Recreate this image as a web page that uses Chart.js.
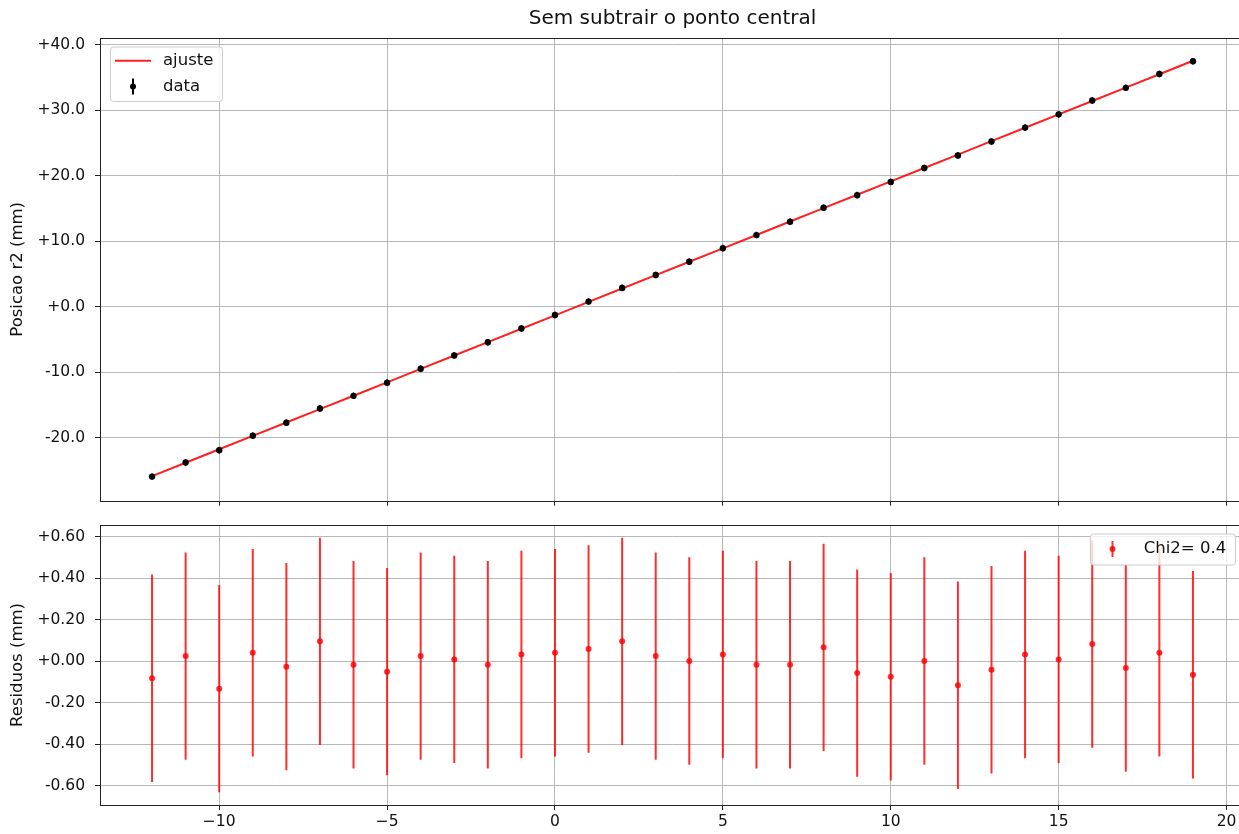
<!DOCTYPE html>
<html>
<head>
<meta charset="utf-8">
<script src="https://cdn.jsdelivr.net/npm/chart.js@4.4.1/dist/chart.umd.min.js"></script>
<style>
  html, body { margin: 0; padding: 0; overflow: hidden; background: #fff; }
  #wrap { position: relative; width: 1239px; height: 834px; overflow: hidden; }
  canvas { position: absolute; left: 0; }
  #topPanel { top: 0; width: 1260px; height: 520px; }
  #bottomPanel { top: 505px; width: 1260px; height: 329px; }
</style>
</head>
<body>
<div id="wrap">
  <canvas id="topPanel" width="1260" height="520"></canvas>
  <canvas id="bottomPanel" width="1260" height="329"></canvas>
</div>
<script>
// Positions along the scan and the measured r2 positions (mm)
const positions = [-12, -11, -10, -9, -8, -7, -6, -5, -4, -3, -2, -1, 0, 1, 2, 3,
                   4, 5, 6, 7, 8, 9, 10, 11, 12, 13, 14, 15, 16, 17, 18, 19];
const measured = [-25.94, -23.79, -21.90, -19.69, -17.71, -15.55, -13.61, -11.60,
                  -9.48, -7.45, -5.43, -3.33, -1.28, 0.78, 2.87, 4.84,
                  6.86, 8.94, 10.93, 12.98, 15.11, 17.03, 19.05, 21.18,
                  23.10, 25.22, 27.34, 29.36, 31.48, 33.41, 35.53, 37.47];
// Straight-line fit evaluated at each position (mm)
const fitted = [-25.86, -23.82, -21.77, -19.73, -17.68, -15.64, -13.59, -11.55,
                -9.50, -7.46, -5.41, -3.37, -1.32, 0.73, 2.77, 4.82,
                6.86, 8.91, 10.95, 13.00, 15.04, 17.09, 19.13, 21.18,
                23.22, 25.27, 27.31, 29.36, 31.40, 33.45, 35.49, 37.54];
// Residuals measured - fit (mm)
const residuals = [-0.083, 0.024, -0.133, 0.040, -0.027, 0.095, -0.018, -0.051,
                   0.024, 0.008, -0.018, 0.032, 0.040, 0.058, 0.095, 0.024,
                   0.000, 0.032, -0.018, -0.018, 0.066, -0.058, -0.076, 0.000,
                   -0.117, -0.042, 0.032, 0.008, 0.082, -0.034, 0.040, -0.066];
// Uncertainty of each measurement (mm)
const uncertainty = [0.5, 0.5, 0.5, 0.5, 0.5, 0.5, 0.5, 0.5, 0.5, 0.5, 0.5, 0.5, 0.5, 0.5, 0.5, 0.5,
                     0.5, 0.5, 0.5, 0.5, 0.5, 0.5, 0.5, 0.5, 0.5, 0.5, 0.5, 0.5, 0.5, 0.5, 0.5, 0.5];

const xTicks = [-10, -5, 0, 5, 10, 15, 20];
const positionTicks = [-20, -10, 0, 10, 20, 30, 40];
const residualTicks = [-0.6, -0.4, -0.2, 0, 0.2, 0.4, 0.6];

const titleText = 'Sem subtrair o ponto central';
const positionLabel = 'Posicao r2 (mm)';
const residualLabel = 'Residuos (mm)';
const fitName = 'ajuste';
const dataName = 'data';
const chi2Name = 'Chi2= 0.4';

const FONT = "'DejaVu Sans', 'Bitstream Vera Sans', sans-serif";
Chart.defaults.font.family = FONT;
Chart.defaults.color = '#111';

const RED = 'rgba(255, 0, 0, 0.82)';
const GRID = '#b0b0b0';

const signed = (v, d) => (v >= 0 ? '+' : '-') + Math.abs(v).toFixed(d);
const xFmt = v => (v < 0 ? '\u2212' + Math.abs(v) : String(v));

const measuredPts = positions.map((x, i) => ({ x, y: measured[i] }));
const fittedPts = positions.map((x, i) => ({ x, y: fitted[i] }));
const residualPts = positions.map((x, i) => ({ x, y: residuals[i] }));

// Vertical error bars for one dataset, drawn under the markers
const errorBars = {
  id: 'errorBars',
  beforeDatasetsDraw(chart, args, opts) {
    const ds = chart.data.datasets[opts.datasetIndex];
    const xs = chart.scales.x, ys = chart.scales.y, ctx = chart.ctx;
    const a = chart.chartArea;
    ctx.save();
    ctx.beginPath();
    ctx.rect(a.left, a.top, a.right - a.left, a.bottom - a.top);
    ctx.clip();
    ctx.strokeStyle = opts.color;
    ctx.lineWidth = opts.width;
    ctx.beginPath();
    ds.data.forEach((p, i) => {
      const e = opts.errors[i];
      const px = xs.getPixelForValue(p.x);
      ctx.moveTo(px, ys.getPixelForValue(p.y - e));
      ctx.lineTo(px, ys.getPixelForValue(p.y + e));
    });
    ctx.stroke();
    ctx.restore();
  }
};

// Axes frame plus a boxed legend
const frameAndLegend = {
  id: 'frameAndLegend',
  afterDraw(chart, args, opts) {
    const ctx = chart.ctx, a = chart.chartArea;
    ctx.save();
    ctx.strokeStyle = '#222';
    ctx.lineWidth = 1;
    ctx.strokeRect(Math.round(a.left) + 0.5, Math.round(a.top) + 0.5,
                   Math.round(a.right - a.left), Math.round(a.bottom - a.top));

    const L = opts.box;
    const bx = opts.anchor === 'right' ? a.right - L.dx - L.w : a.left + L.dx;
    const by = a.top + L.dy;
    const r = 3;
    ctx.beginPath();
    ctx.moveTo(bx + r, by);
    ctx.arcTo(bx + L.w, by, bx + L.w, by + L.h, r);
    ctx.arcTo(bx + L.w, by + L.h, bx, by + L.h, r);
    ctx.arcTo(bx, by + L.h, bx, by, r);
    ctx.arcTo(bx, by, bx + L.w, by, r);
    ctx.closePath();
    ctx.fillStyle = 'rgba(255,255,255,0.8)';
    ctx.fill();
    ctx.strokeStyle = '#cccccc';
    ctx.lineWidth = 1;
    ctx.stroke();

    ctx.font = opts.fontSize + 'px ' + FONT;
    ctx.textBaseline = 'middle';
    ctx.textAlign = 'left';
    opts.items.forEach(it => {
      const cy = by + it.dy;
      const hx = bx + L.handleX;
      if (it.kind === 'line') {
        ctx.strokeStyle = it.color;
        ctx.lineWidth = 2;
        ctx.beginPath();
        ctx.moveTo(hx - 18, cy);
        ctx.lineTo(hx + 18, cy);
        ctx.stroke();
      } else {
        ctx.strokeStyle = it.color;
        ctx.lineWidth = 2;
        ctx.beginPath();
        ctx.moveTo(hx, cy - 8);
        ctx.lineTo(hx, cy + 8);
        ctx.stroke();
        ctx.fillStyle = it.color;
        ctx.beginPath();
        ctx.arc(hx, cy, 3, 0, Math.PI * 2);
        ctx.fill();
      }
      ctx.fillStyle = '#111';
      ctx.fillText(it.label, bx + L.textX, cy);
    });
    ctx.restore();
  }
};

const X_MIN = -13.55, X_MAX = 20.55;

function xAxis(showLabels, height) {
  return {
    type: 'linear',
    min: X_MIN, max: X_MAX,
    afterBuildTicks: s => { s.ticks = xTicks.map(v => ({ value: v })); },
    afterFit: s => { s.height = height; },
    border: { display: false },
    grid: { color: GRID, lineWidth: 0.9, drawTicks: true, tickLength: 5, tickColor: '#222', tickWidth: 1 },
    ticks: { display: showLabels, padding: 3, maxRotation: 0, autoSkip: false,
             font: { size: 15.5 }, callback: v => xFmt(v) }
  };
}

function yAxis(min, max, tickVals, digits, label) {
  return {
    type: 'linear',
    min, max,
    afterBuildTicks: s => { s.ticks = tickVals.map(v => ({ value: v })); },
    afterFit: s => { s.width = 100; },
    border: { display: false },
    grid: { color: GRID, lineWidth: 0.9, drawTicks: true, tickLength: 5, tickColor: '#222', tickWidth: 1 },
    ticks: { padding: 10, autoSkip: false, font: { size: 15.5 }, callback: v => signed(v, digits) },
    title: { display: true, text: label, font: { size: 16.5 }, padding: { top: 8, bottom: 0 }, color: '#111' }
  };
}

new Chart(document.getElementById('topPanel'), {
  type: 'scatter',
  data: {
    datasets: [
      { label: dataName, data: measuredPts, order: 0,
        pointRadius: 3.2, pointBackgroundColor: '#000', pointBorderWidth: 0 },
      { label: fitName, data: fittedPts, order: 1, showLine: true,
        borderColor: 'rgba(255,0,0,0.88)', borderWidth: 2, pointRadius: 0 }
    ]
  },
  options: {
    responsive: false, animation: false, events: [],
    layout: { padding: { left: 0, right: 15, top: 0, bottom: 12 } },
    scales: { x: xAxis(false, 5), y: yAxis(-29.62, 41.02, positionTicks, 1, positionLabel) },
    plugins: {
      legend: { display: false },
      tooltip: { enabled: false },
      title: { display: true, text: titleText, fullSize: false, color: '#111',
               font: { size: 20, weight: 'normal' }, padding: { top: 7, bottom: 7 } },
      errorBars: { datasetIndex: 0, errors: uncertainty, color: '#000', width: 1.5 },
      frameAndLegend: {
        anchor: 'left', fontSize: 16.5,
        box: { dx: 10.5, dy: 9, w: 112, h: 54.5, handleX: 22.5, textX: 52.5 },
        items: [
          { kind: 'line', label: fitName, color: 'rgba(255,0,0,0.88)', dy: 13.7 },
          { kind: 'err', label: dataName, color: '#000', dy: 39.4 }
        ]
      }
    }
  },
  plugins: [errorBars, frameAndLegend]
});

new Chart(document.getElementById('bottomPanel'), {
  type: 'scatter',
  data: {
    datasets: [
      { label: chi2Name, data: residualPts,
        pointRadius: 3, pointBackgroundColor: RED, pointBorderWidth: 0 }
    ]
  },
  options: {
    responsive: false, animation: false, events: [],
    layout: { padding: { left: 0, right: 15, top: 20, bottom: 0 } },
    scales: { x: xAxis(true, 29), y: yAxis(-0.694, 0.656, residualTicks, 2, residualLabel) },
    plugins: {
      legend: { display: false },
      tooltip: { enabled: false },
      errorBars: { datasetIndex: 0, errors: uncertainty, color: RED, width: 2 },
      frameAndLegend: {
        anchor: 'right', fontSize: 16.5,
        box: { dx: 9.5, dy: 9, w: 145, h: 31, handleX: 22, textX: 53.3 },
        items: [
          { kind: 'err', label: chi2Name, color: RED, dy: 15 }
        ]
      }
    }
  },
  plugins: [errorBars, frameAndLegend]
});
</script>
</body>
</html>
